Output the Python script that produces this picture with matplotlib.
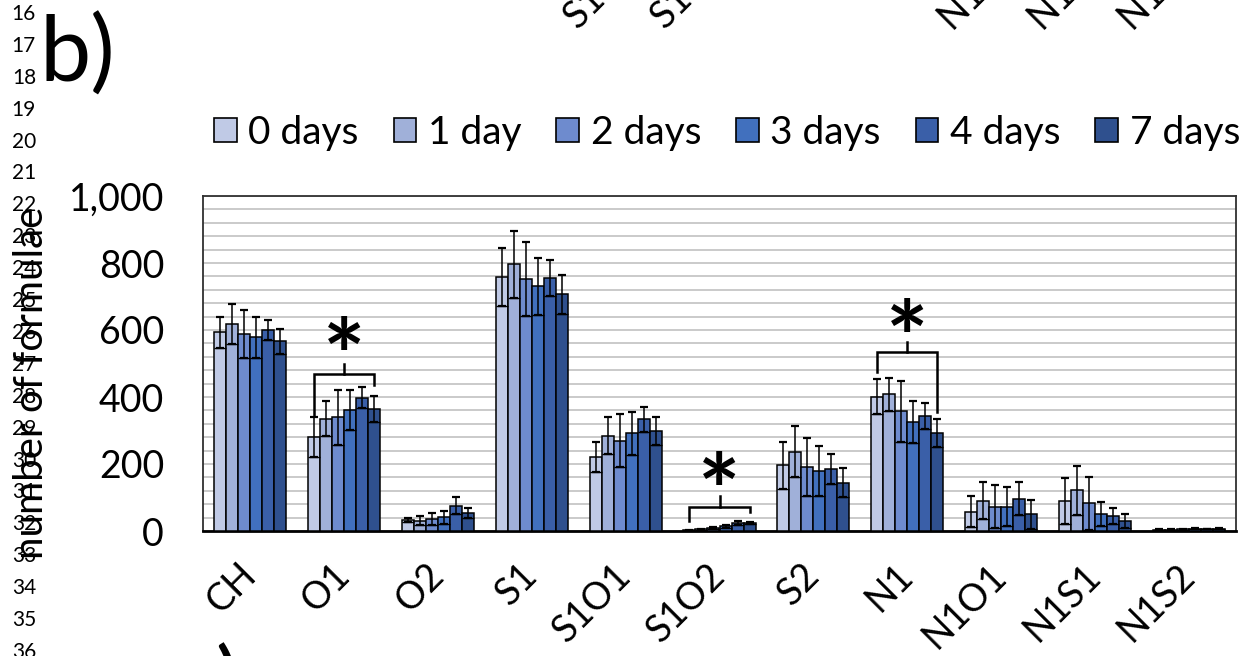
# Number of molecular formulae per compound class over the incubation time,
# bars = mean, whiskers = standard deviation, brackets mark significant trends.

import matplotlib.pyplot as plt
import matplotlib.patches as mpatches
import numpy as np

plt.rcParams['font.family'] = ['Lato', 'DejaVu Sans']

categories = ['CH', 'O1', 'O2', 'S1', 'S1O1', 'S1O2', 'S2', 'N1', 'N1O1', 'N1S1', 'N1S2']
series_names = ['0 days', '1 day', '2 days', '3 days', '4 days', '7 days']
colors = ['#C0CAE6', '#A0B0D9', '#6E8BCE', '#4170BE', '#3A5FA8', '#2F508E']

days_0 = [593, 281, 33, 759, 220, 2, 196, 401, 58, 90, 4]
days_1 = [618, 335, 31, 796, 284, 5, 237, 408, 90, 122, 4]
days_2 = [589, 339, 36, 752, 270, 9, 190, 357, 73, 83, 5]
days_3 = [578, 361, 41, 731, 292, 14, 178, 325, 73, 50, 7]
days_4 = [601, 398, 76, 756, 333, 24, 185, 343, 96, 45, 6]
days_7 = [566, 364, 53, 707, 299, 24, 144, 292, 50, 30, 7]

sd_0 = [46, 60, 5, 86, 45, 1, 71, 52, 47, 69, 1]
sd_1 = [61, 52, 14, 100, 55, 2, 76, 50, 55, 73, 1]
sd_2 = [72, 82, 17, 110, 80, 3, 87, 92, 65, 79, 1]
sd_3 = [62, 59, 20, 85, 64, 4, 75, 62, 58, 36, 1]
sd_4 = [30, 31, 25, 54, 38, 7, 45, 40, 49, 23, 1]
sd_7 = [38, 39, 15, 58, 42, 4, 43, 42, 43, 20, 1]

# significant classes: (category, bracket top, left leg end, right leg end, star height)
sig_classes = ['O1', 'S1O2', 'N1']
sig_top = [469, 73, 533]
sig_left = [346, 31, 476]
sig_right = [436, 58, 356]
sig_star = [500, 97, 555]

# panel a) labels peeking in from above
prev_labels = ['S1O1', 'S1O2', 'N1O1', 'N1S1', 'N1S2']
prev_label_x = [578, 665, 952, 1042, 1132]

values = [days_0, days_1, days_2, days_3, days_4, days_7]
errors = [sd_0, sd_1, sd_2, sd_3, sd_4, sd_7]

W, H = 1245, 656
fig = plt.figure(figsize=(W / 100, H / 100), dpi=100)
ax = fig.add_axes([203 / W, 1 - 531 / H, (1236 - 203) / W, (531 - 196) / H])

x = np.arange(len(categories))
bw = 0.128
for k in range(6):
    xs = x + (k - 2.5) * bw
    v = np.array(values[k])
    e = np.array(errors[k])
    ax.bar(xs, v, bw, color=colors[k], edgecolor='black', linewidth=1.1, zorder=3)
    ax.errorbar(xs, v, yerr=e, fmt='none', ecolor='black', elinewidth=1.1,
                capsize=3, capthick=1.6, zorder=4)
    low = v - e
    keep = low > 0
    ax.hlines(low[keep], xs[keep] - bw / 2, xs[keep] + bw / 2, color='black',
              linewidth=1.0, zorder=4)

# brackets with asterisks
for name, top, yl, yr, ys in zip(sig_classes, sig_top, sig_left, sig_right, sig_star):
    i = categories.index(name)
    xl = i - 2.5 * bw
    xr = i + 2.5 * bw
    ax.plot([xl, xl, xr, xr], [yl, top, top, yr], color='black', lw=1.8, zorder=5,
            solid_joinstyle='miter')
    ax.plot([i, i], [top, top + 30], color='black', lw=1.8, zorder=5)
    ax.text(i, ys, '*', ha='center', va='center', fontsize=72, fontweight='bold',
            zorder=6)

ax.set_xlim(-0.5, len(categories) - 0.5)
ax.set_ylim(0, 1000)
ax.set_yticks(range(0, 1001, 200))
ax.set_yticklabels(['{:,}'.format(t) for t in range(0, 1001, 200)])
ax.set_yticks(range(0, 1001, 40), minor=True)
ax.grid(axis='y', which='both', color='#c6c6c6', linewidth=1.3, zorder=0)
ax.set_axisbelow(True)
ax.tick_params(axis='y', which='both', length=0, pad=28, labelsize=27)
ax.set_xticks(x)
ax.set_xticklabels(categories, rotation=45, ha='right', va='center',
                   rotation_mode='anchor', fontsize=27)
ax.tick_params(axis='x', length=0, pad=28)
for s in ax.spines.values():
    s.set_color('#303030')
    s.set_linewidth(1.3)
ax.spines['bottom'].set_color('black')
ax.spines['bottom'].set_linewidth(2)

handles = [mpatches.Patch(facecolor=c, edgecolor='black', linewidth=1.2) for c in colors]
fig.legend(handles, series_names, loc='center', ncol=6, frameon=False,
           bbox_to_anchor=(727 / W, 1 - 133 / H), fontsize=28,
           handlelength=0.58, handleheight=0.58, handletextpad=0.3, columnspacing=0.9)

fig.text(32 / W, 1 - 383 / H, 'number of formulae', rotation=90, ha='center',
         va='center', fontsize=29, zorder=5)

# manuscript line numbers
for n in range(16, 37):
    fig.text(36 / W, 1 - (14 + (n - 16) * 31.9) / H, str(n), ha='right',
             va='center', fontsize=15, zorder=1)

fig.text(39 / W, 1 - 82 / H, 'b)', ha='left', va='baseline', fontsize=66)
fig.text(172 / W, 1 - 714 / H, 'c)', ha='left', va='baseline', fontsize=66)

for lab, px in zip(prev_labels, prev_label_x):
    fig.text(px / W, 1 - 30 / H, lab, rotation=45, rotation_mode='anchor',
             ha='left', va='baseline', fontsize=27)

fig.savefig('out.png', dpi=100)
